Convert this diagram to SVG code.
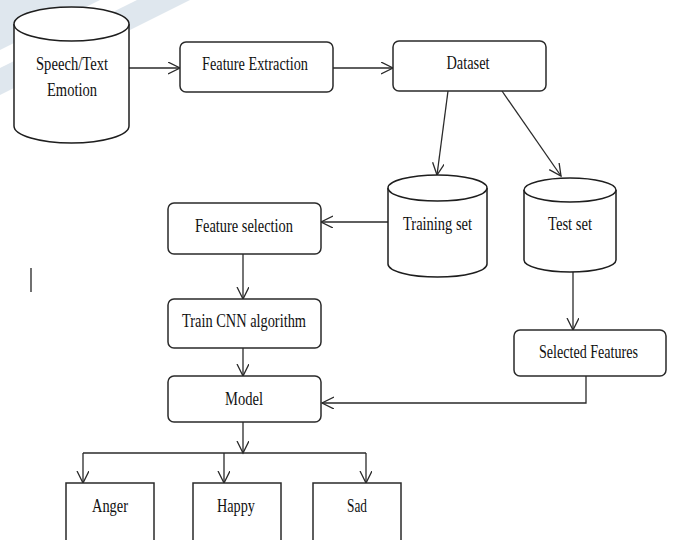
<svg xmlns="http://www.w3.org/2000/svg" width="674" height="540" viewBox="0 0 674 540">
<style>
.bg{fill:#ffffff}
.wm{fill:#dfe7ee}
.box{fill:#ffffff;stroke:#2a2a2a;stroke-width:1.5}
.cyl{fill:#ffffff;stroke:#1e1e1e;stroke-width:1.5}
.edge{fill:none;stroke:#2a2a2a;stroke-width:1.3}
.lbl{font-family:"Liberation Serif","Times New Roman",serif;font-size:19px;fill:#111111;text-anchor:middle}
</style>
<defs>
<marker id="arr" markerUnits="userSpaceOnUse" markerWidth="14" markerHeight="14" refX="12" refY="6" orient="auto">
<path d="M0,0 L12,6 L0,12" fill="none" stroke="#2a2a2a" stroke-width="1.3"/>
</marker>
</defs>
<rect class="bg" x="0" y="0" width="674" height="540"/>
<g id="watermark">
<polygon class="wm" points="137,0 190,0 0,95 0,68"/>
<polygon class="wm" points="0,0 100,0 0,50"/>
</g>
<g id="connectors">
<line class="edge" x1="129" y1="68" x2="180" y2="68" marker-end="url(#arr)"/>
<line class="edge" x1="333" y1="68" x2="393" y2="68" marker-end="url(#arr)"/>
<line class="edge" x1="448" y1="91" x2="437" y2="175" marker-end="url(#arr)"/>
<line class="edge" x1="502" y1="91" x2="561" y2="176" marker-end="url(#arr)"/>
<line class="edge" x1="388" y1="222" x2="321" y2="222" marker-end="url(#arr)"/>
<line class="edge" x1="243" y1="254" x2="243" y2="299" marker-end="url(#arr)"/>
<line class="edge" x1="243" y1="348" x2="243" y2="376" marker-end="url(#arr)"/>
<line class="edge" x1="573" y1="272" x2="573" y2="330" marker-end="url(#arr)"/>
<polyline class="edge" points="586,376 586,403 322,403" marker-end="url(#arr)"/>
<line class="edge" x1="243" y1="422" x2="243" y2="453" marker-end="url(#arr)"/>
<line class="edge" x1="83" y1="453" x2="366" y2="453"/>
<line class="edge" x1="83" y1="453" x2="83" y2="483" marker-end="url(#arr)"/>
<line class="edge" x1="224" y1="453" x2="224" y2="483" marker-end="url(#arr)"/>
<line class="edge" x1="366" y1="453" x2="366" y2="483" marker-end="url(#arr)"/>
</g>
<g id="speech">
<path class="cyl" d="M14,24 A57.5,17 0 0 1 129,24 L129,126 A57.5,17 0 0 1 14,126 Z"/>
<path class="cyl" fill="none" d="M14,24 A57.5,17 0 0 0 129,24"/>
<text class="lbl" x="72" y="70" textLength="72" lengthAdjust="spacingAndGlyphs">Speech/Text</text>
<text class="lbl" x="72" y="96" textLength="50" lengthAdjust="spacingAndGlyphs">Emotion</text>
</g>
<g id="feature-extraction">
<rect class="box" x="180" y="42" width="153" height="50" rx="6"/>
<text class="lbl" x="255" y="70" textLength="106" lengthAdjust="spacingAndGlyphs">Feature Extraction</text>
</g>
<g id="dataset">
<rect class="box" x="393" y="41" width="153" height="50" rx="6"/>
<text class="lbl" x="468" y="69" textLength="43" lengthAdjust="spacingAndGlyphs">Dataset</text>
</g>
<g id="training-set">
<path class="cyl" d="M388,188 A49.5,13 0 0 1 487,188 L487,264 A49.5,13 0 0 1 388,264 Z"/>
<path class="cyl" fill="none" d="M388,188 A49.5,13 0 0 0 487,188"/>
<text class="lbl" x="437.5" y="230" textLength="69" lengthAdjust="spacingAndGlyphs">Training set</text>
</g>
<g id="test-set">
<path class="cyl" d="M524,190 A46,12 0 0 1 616,190 L616,260 A46,12 0 0 1 524,260 Z"/>
<path class="cyl" fill="none" d="M524,190 A46,12 0 0 0 616,190"/>
<text class="lbl" x="570" y="230" textLength="44" lengthAdjust="spacingAndGlyphs">Test set</text>
</g>
<g id="feature-selection">
<rect class="box" x="168" y="203" width="153" height="51" rx="6"/>
<text class="lbl" x="244" y="232" textLength="98" lengthAdjust="spacingAndGlyphs">Feature selection</text>
</g>
<g id="train-cnn">
<rect class="box" x="168" y="299" width="153" height="49" rx="6"/>
<text class="lbl" x="244" y="327" textLength="124" lengthAdjust="spacingAndGlyphs">Train CNN algorithm</text>
</g>
<g id="selected-features">
<rect class="box" x="514" y="330" width="152" height="46" rx="6"/>
<text class="lbl" x="588.5" y="358" textLength="99" lengthAdjust="spacingAndGlyphs">Selected Features</text>
</g>
<g id="model">
<rect class="box" x="168" y="376" width="153" height="46" rx="6"/>
<text class="lbl" x="244" y="405" textLength="38" lengthAdjust="spacingAndGlyphs">Model</text>
</g>
<g id="anger">
<rect class="box" x="66" y="483" width="88" height="70"/>
<text class="lbl" x="110" y="512" textLength="36" lengthAdjust="spacingAndGlyphs">Anger</text>
</g>
<g id="happy">
<rect class="box" x="193" y="483" width="88" height="70"/>
<text class="lbl" x="236" y="512" textLength="38" lengthAdjust="spacingAndGlyphs">Happy</text>
</g>
<g id="sad">
<rect class="box" x="313" y="483" width="88" height="70"/>
<text class="lbl" x="357" y="512" textLength="20" lengthAdjust="spacingAndGlyphs">Sad</text>
</g>
<line x1="31" y1="268" x2="31" y2="292" stroke="#111111" stroke-width="1.2"/>
</svg>
